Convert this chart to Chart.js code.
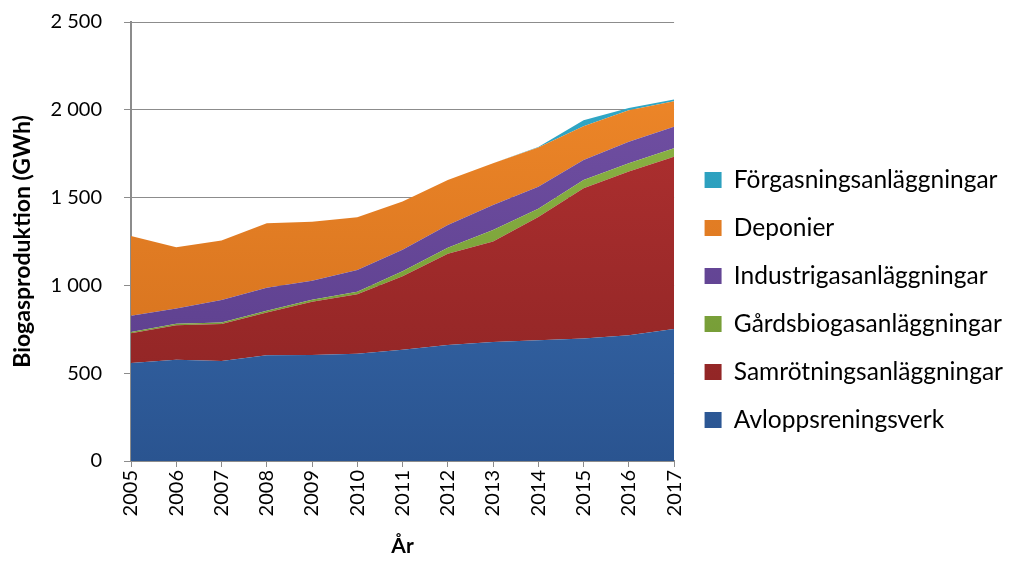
<!DOCTYPE html>
<html>
<head>
<meta charset="utf-8">
<script src="https://cdn.jsdelivr.net/npm/chart.js@4.4.1/dist/chart.umd.min.js"></script>
<style>
  html, body { margin: 0; padding: 0; background: #fff; }
  #wrap { width: 1013px; height: 565px; }
</style>
</head>
<body>
<div id="wrap"><canvas id="biogas"></canvas></div>
<script>
// Biogasproduktion per anläggningstyp (GWh)
const years = ['2005', '2006', '2007', '2008', '2009', '2010', '2011', '2012', '2013', '2014', '2015', '2016', '2017'];
const avlopp     = [558, 577, 570, 602, 603, 611, 634, 660, 678, 688, 698, 716, 752];
const samrotning = [169, 196, 210, 243, 304, 339, 418, 520, 572, 702, 855, 932, 981];
const gards      = [8, 8, 9, 10, 11, 14, 28, 35, 65, 47, 47, 47, 48];
const industri   = [92, 88, 128, 132, 109, 124, 123, 129, 143, 125, 114, 123, 123];
const deponier   = [454, 348, 338, 367, 336, 300, 275, 256, 237, 223, 192, 179, 145];
const forgasning = [0, 0, 0, 0, 0, 0, 0, 0, 0, 3, 34, 13, 10];
const yTicks = [0, 500, 1000, 1500, 2000, 2500];

const FONT = 'Lato, "Open Sans", sans-serif';

// vertical gradient like the Excel fill
const shade = (light, dark) => (context) => {
  const { ctx, chartArea } = context.chart;
  if (!chartArea) return dark;
  const g = ctx.createLinearGradient(0, chartArea.top, 0, chartArea.bottom);
  g.addColorStop(0, light);
  g.addColorStop(1, dark);
  return g;
};

const series = [
  { label: 'Avloppsreningsverk', data: avlopp, fill: 'origin', backgroundColor: shade('#3f76bd', '#2a5490') },
  { label: 'Samrötningsanläggningar', data: samrotning, fill: '-1', backgroundColor: shade('#b83333', '#8a2323') },
  { label: 'Gårdsbiogasanläggningar', data: gards, fill: '-1', backgroundColor: shade('#93bb48', '#6c9231') },
  { label: 'Industrigasanläggningar', data: industri, fill: '-1', backgroundColor: shade('#7553a8', '#573b87') },
  { label: 'Deponier', data: deponier, fill: '-1', backgroundColor: shade('#f28a2a', '#cf6d1c') },
  { label: 'Förgasningsanläggningar', data: forgasning, fill: '-1', backgroundColor: shade('#33aecd', '#2389a6') },
];

const spaced = (v) => String(v).replace(/\B(?=(\d{3})+(?!\d))/g, ' ');

const canvas = document.getElementById('biogas');
canvas.chart = new Chart(canvas, {
  type: 'line',
  data: {
    labels: years,
    datasets: series.map(s => ({
      ...s,
      borderWidth: 0,
      borderColor: 'rgba(0,0,0,0)',
      pointRadius: 0,
      pointHoverRadius: 0,
      tension: 0,
    })),
  },
  options: {
    responsive: true,
    maintainAspectRatio: false,
    animation: false,
    layout: { padding: { top: 22, right: 0, bottom: 0, left: 0 } },
    plugins: {
      tooltip: { enabled: false },
      legend: {
        position: 'right',
        reverse: true,
        maxWidth: 420,
        title: { display: true, text: ' ', font: { size: 5 }, padding: { top: 0, bottom: 7 } },
        labels: {
          color: '#000',
          font: { family: FONT, size: 24.5 },
          boxWidth: 17,
          boxHeight: 16,
          padding: 23.5,
        },
      },
    },
    scales: {
      x: {
        offset: false,
        grid: { display: true, drawOnChartArea: false, color: '#8c8c8c', tickLength: 6 },
        border: { color: '#8c8c8c', width: 2 },
        ticks: { color: '#000', font: { family: FONT, size: 20 }, minRotation: 90, maxRotation: 90, padding: 3 },
        title: { display: true, text: 'År', color: '#000', font: { family: FONT, size: 21, weight: 'bold' }, padding: { top: 0, bottom: 6 } },
        afterFit: (s) => { s.height = 104; },
      },
      y: {
        stacked: true,
        min: 0,
        max: 2500,
        afterBuildTicks: (s) => { s.ticks = yTicks.map(v => ({ value: v })); },
        grid: { color: '#8c8c8c', tickLength: 7 },
        border: { color: '#8c8c8c', width: 2 },
        ticks: { color: '#000', font: { family: FONT, size: 20 }, padding: 22, callback: (v) => spaced(v) },
        title: { display: true, text: 'Biogasproduktion (GWh)', color: '#000', font: { family: FONT, size: 23, weight: 'bold' }, padding: { top: 9, bottom: 0 } },
        afterFit: (s) => {
          s.width = 131;
          s.paddingTop = 0;
          s.paddingBottom = 0;
        },
      },
      // empty axis, only keeps a gap between plot and legend
      gap: {
        position: 'right',
        display: true,
        grid: { display: false },
        border: { display: false },
        ticks: { display: false },
        afterFit: (s) => { s.width = 7; },
      },
    },
  },
});
</script>
</body>
</html>
